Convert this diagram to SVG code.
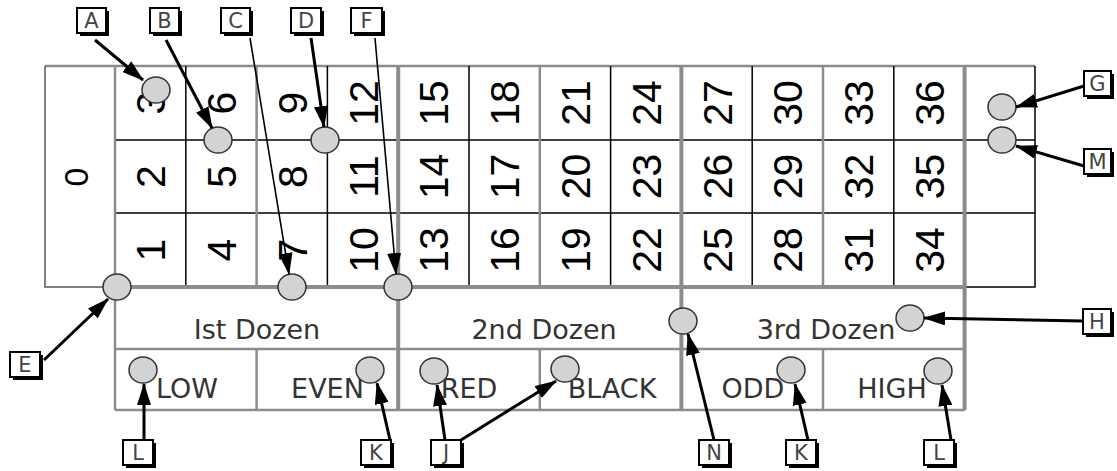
<svg xmlns="http://www.w3.org/2000/svg" width="1117" height="471" viewBox="0 0 1117 471">
<style>
.g{stroke:#8c8c8c;stroke-width:2.5;fill:none}
.gt{stroke:#8c8c8c;stroke-width:4;fill:none}
.k{stroke:#000;stroke-width:1.5;fill:none}
.d{stroke:#555;stroke-width:1.5;fill:none}
.num{font-family:"Liberation Sans",Arial,sans-serif;font-size:41px;text-anchor:middle;fill:#000}
.lbl{font-family:"DejaVu Sans",Verdana,sans-serif;font-size:27px;text-anchor:middle;fill:#333}
.dot{fill:#d3d3d3;stroke:#333;stroke-width:1.5}
.bx{fill:#fff;stroke:#000;stroke-width:2}
.sh{fill:#000}
.bt{font-family:"DejaVu Sans",Verdana,sans-serif;font-size:21px;text-anchor:middle;fill:#444}
.arr{stroke:#000;stroke-width:3;fill:none;marker-end:url(#ah)}
.thin{stroke-width:1.6}
</style>
<defs>
<marker id="ah" markerUnits="userSpaceOnUse" markerWidth="22" markerHeight="14" refX="21" refY="7" orient="auto">
<path d="M0,0 L22,7 L0,14 z" fill="#000"/>
</marker>
</defs>
<rect width="1117" height="471" fill="#fff"/>
<g id="table">
<path class="g" d="M45,66 H1035"/>
<path class="d" d="M45,66 V287 H115"/>
<path class="k" d="M115,140 H1035 M115,213 H1035"/>
<path class="k" d="M185.8,66 V287 M327.4,66 V287 M469,66 V287 M610.6,66 V287 M752.2,66 V287 M893.8,66 V287"/>
<path class="g" d="M256.6,66 V287 M539.8,66 V287 M823,66 V287"/>
<path class="k" d="M1035,66 V287 H965"/>
<path class="g" d="M115,66 V410"/>
<path class="gt" d="M398.2,66 V410 M681.4,66 V410 M964.6,66 V410"/>
<path class="gt" d="M115,287 H965"/>
<path class="g" d="M115,349 H965 M115,410 H965"/>
<path class="g" d="M256.6,349 V410 M539.8,349 V410 M823,349 V410"/>
<text class="num" style="font-size:34px" transform="translate(76,177) rotate(-90)" y="12">0</text>
<g id="numbers">
<text class="num" transform="translate(150.4,103) rotate(-90)" y="14.7">3</text>
<text class="num" transform="translate(150.4,176.5) rotate(-90)" y="14.7">2</text>
<text class="num" transform="translate(150.4,250) rotate(-90)" y="14.7">1</text>
<text class="num" transform="translate(221.2,103) rotate(-90)" y="14.7">6</text>
<text class="num" transform="translate(221.2,176.5) rotate(-90)" y="14.7">5</text>
<text class="num" transform="translate(221.2,250) rotate(-90)" y="14.7">4</text>
<text class="num" transform="translate(292,103) rotate(-90)" y="14.7">9</text>
<text class="num" transform="translate(292,176.5) rotate(-90)" y="14.7">8</text>
<text class="num" transform="translate(292,250) rotate(-90)" y="14.7">7</text>
<text class="num" transform="translate(362.8,103) rotate(-90)" y="14.7">12</text>
<text class="num" transform="translate(362.8,176.5) rotate(-90)" y="14.7">11</text>
<text class="num" transform="translate(362.8,250) rotate(-90)" y="14.7">10</text>
<text class="num" transform="translate(433.6,103) rotate(-90)" y="14.7">15</text>
<text class="num" transform="translate(433.6,176.5) rotate(-90)" y="14.7">14</text>
<text class="num" transform="translate(433.6,250) rotate(-90)" y="14.7">13</text>
<text class="num" transform="translate(504.4,103) rotate(-90)" y="14.7">18</text>
<text class="num" transform="translate(504.4,176.5) rotate(-90)" y="14.7">17</text>
<text class="num" transform="translate(504.4,250) rotate(-90)" y="14.7">16</text>
<text class="num" transform="translate(575.2,103) rotate(-90)" y="14.7">21</text>
<text class="num" transform="translate(575.2,176.5) rotate(-90)" y="14.7">20</text>
<text class="num" transform="translate(575.2,250) rotate(-90)" y="14.7">19</text>
<text class="num" transform="translate(646,103) rotate(-90)" y="14.7">24</text>
<text class="num" transform="translate(646,176.5) rotate(-90)" y="14.7">23</text>
<text class="num" transform="translate(646,250) rotate(-90)" y="14.7">22</text>
<text class="num" transform="translate(716.8,103) rotate(-90)" y="14.7">27</text>
<text class="num" transform="translate(716.8,176.5) rotate(-90)" y="14.7">26</text>
<text class="num" transform="translate(716.8,250) rotate(-90)" y="14.7">25</text>
<text class="num" transform="translate(787.6,103) rotate(-90)" y="14.7">30</text>
<text class="num" transform="translate(787.6,176.5) rotate(-90)" y="14.7">29</text>
<text class="num" transform="translate(787.6,250) rotate(-90)" y="14.7">28</text>
<text class="num" transform="translate(858.4,103) rotate(-90)" y="14.7">33</text>
<text class="num" transform="translate(858.4,176.5) rotate(-90)" y="14.7">32</text>
<text class="num" transform="translate(858.4,250) rotate(-90)" y="14.7">31</text>
<text class="num" transform="translate(929.2,103) rotate(-90)" y="14.7">36</text>
<text class="num" transform="translate(929.2,176.5) rotate(-90)" y="14.7">35</text>
<text class="num" transform="translate(929.2,250) rotate(-90)" y="14.7">34</text>
</g>
<text class="lbl" x="257" y="339">Ist Dozen</text>
<text class="lbl" x="544" y="339">2nd Dozen</text>
<text class="lbl" x="826" y="339">3rd Dozen</text>
<text class="lbl" x="187" y="398">LOW</text>
<text class="lbl" x="327.5" y="398">EVEN</text>
<text class="lbl" x="469" y="398">RED</text>
<text class="lbl" x="612" y="398">BLACK</text>
<text class="lbl" x="753" y="398">ODD</text>
<text class="lbl" x="892" y="398">HIGH</text>
</g>
<g id="dots">
<ellipse id="dotA" class="dot" cx="156" cy="90" rx="14" ry="13"/>
<ellipse id="dotB" class="dot" cx="218" cy="140" rx="14" ry="13"/>
<ellipse id="dotC" class="dot" cx="292" cy="287" rx="14" ry="13"/>
<ellipse id="dotD" class="dot" cx="325" cy="140" rx="14" ry="13"/>
<ellipse id="dotF" class="dot" cx="398" cy="287" rx="14" ry="13"/>
<ellipse id="dotE" class="dot" cx="117" cy="287" rx="14" ry="13"/>
<ellipse id="dotG" class="dot" cx="1002" cy="107" rx="14" ry="13"/>
<ellipse id="dotM" class="dot" cx="1002" cy="140" rx="14" ry="13"/>
<ellipse id="dotH" class="dot" cx="910" cy="318" rx="14" ry="13"/>
<ellipse id="dotN" class="dot" cx="683" cy="321" rx="14" ry="13"/>
<ellipse id="dotL1" class="dot" cx="143" cy="370" rx="14" ry="13"/>
<ellipse id="dotK1" class="dot" cx="370" cy="370" rx="14" ry="13"/>
<ellipse id="dotJ1" class="dot" cx="434" cy="371" rx="14" ry="13"/>
<ellipse id="dotJ2" class="dot" cx="565" cy="369" rx="14" ry="13"/>
<ellipse id="dotK2" class="dot" cx="791" cy="370" rx="14" ry="13"/>
<ellipse id="dotL2" class="dot" cx="938" cy="371" rx="14" ry="13"/>
</g>
<g id="connectors">
<path class="arr" d="M95,40 L143,80"/>
<path class="arr" d="M166,40 L212,128"/>
<path class="arr thin" d="M250,38 L289,274"/>
<path class="arr" d="M311,38 L324,127"/>
<path class="arr thin" d="M375,38 L396,274"/>
<path class="arr" d="M1084,86 L1016,107"/>
<path class="arr" d="M1084,166 L1016,146"/>
<path class="arr" d="M1083,321 L924,318"/>
<path class="arr" d="M44,360 L108,299"/>
<path class="arr" d="M144,440 L144,384"/>
<path class="arr" d="M390,440 L377,383"/>
<path class="arr" d="M445,440 L437,385"/>
<path class="arr" d="M461,440 L556,381"/>
<path class="arr" d="M714,440 L688,334"/>
<path class="arr" d="M808,440 L795,384"/>
<path class="arr" d="M951,440 L942,385"/>
</g>
<g id="labelA"><rect class="sh" x="80" y="11" width="29" height="25"/><rect class="bx" x="77" y="8" width="29" height="25"/><text class="bt" x="91.5" y="28">A</text></g>
<g id="labelB"><rect class="sh" x="153" y="11" width="29" height="25"/><rect class="bx" x="150" y="8" width="29" height="25"/><text class="bt" x="164.5" y="28">B</text></g>
<g id="labelC"><rect class="sh" x="224" y="11" width="29" height="25"/><rect class="bx" x="221" y="8" width="29" height="25"/><text class="bt" x="235.5" y="28">C</text></g>
<g id="labelD"><rect class="sh" x="294" y="11" width="30" height="25"/><rect class="bx" x="291" y="8" width="30" height="25"/><text class="bt" x="306" y="28">D</text></g>
<g id="labelF"><rect class="sh" x="354" y="11" width="31" height="25"/><rect class="bx" x="351" y="8" width="31" height="25"/><text class="bt" x="366.5" y="28">F</text></g>
<g id="labelG"><rect class="sh" x="1087" y="74" width="27" height="25"/><rect class="bx" x="1084" y="71" width="27" height="25"/><text class="bt" x="1097.5" y="91">G</text></g>
<g id="labelM"><rect class="sh" x="1087" y="152" width="27" height="25"/><rect class="bx" x="1084" y="149" width="27" height="25"/><text class="bt" x="1097.5" y="169">M</text></g>
<g id="labelH"><rect class="sh" x="1086" y="312" width="28" height="25"/><rect class="bx" x="1083" y="309" width="28" height="25"/><text class="bt" x="1097" y="329">H</text></g>
<g id="labelE"><rect class="sh" x="13" y="355" width="30" height="25"/><rect class="bx" x="10" y="352" width="30" height="25"/><text class="bt" x="25" y="372">E</text></g>
<g id="labelL1"><rect class="sh" x="126" y="443" width="30" height="25"/><rect class="bx" x="123" y="440" width="30" height="25"/><text class="bt" x="138" y="460">L</text></g>
<g id="labelK1"><rect class="sh" x="364" y="443" width="30" height="25"/><rect class="bx" x="361" y="440" width="30" height="25"/><text class="bt" x="376" y="460">K</text></g>
<g id="labelJ"><rect class="sh" x="434" y="443" width="30" height="25"/><rect class="bx" x="431" y="440" width="30" height="25"/><text class="bt" x="446" y="460">J</text></g>
<g id="labelN"><rect class="sh" x="702" y="443" width="30" height="25"/><rect class="bx" x="699" y="440" width="30" height="25"/><text class="bt" x="714" y="460">N</text></g>
<g id="labelK2"><rect class="sh" x="789" y="443" width="30" height="25"/><rect class="bx" x="786" y="440" width="30" height="25"/><text class="bt" x="801" y="460">K</text></g>
<g id="labelL2"><rect class="sh" x="927" y="443" width="30" height="25"/><rect class="bx" x="924" y="440" width="30" height="25"/><text class="bt" x="939" y="460">L</text></g>
</svg>
